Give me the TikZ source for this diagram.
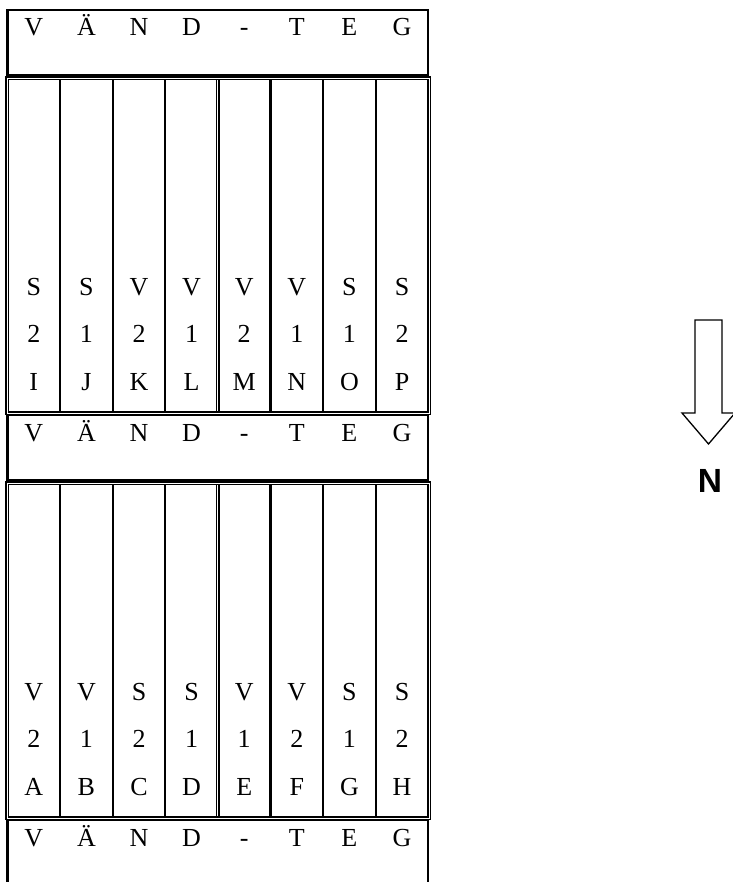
\documentclass[tikz,border=0pt]{standalone}
\usepackage{fontspec}
\setmainfont{Liberation Serif}
\newfontfamily\arialfont{Liberation Sans}
\begin{document}
\begin{tikzpicture}[x=1pt,y=-1pt,
  boxline/.style={line width=2.2pt},
  dblline/.style={line width=1.3pt},
  cellline/.style={line width=2.2pt},
  lettr/.style={font=\fontsize{26}{26}\selectfont, anchor=base, inner sep=0pt},
  arrowshape/.style={line width=1.3pt}]
\useasboundingbox (0,0) rectangle (732,882);
% boxes with VÄND-TEG
\foreach \b in {0,1,2}{
  \pgfmathsetmacro{\yo}{10+405*\b}
  \ifnum\b<2
    \draw[boxline] (7.5,\yo) rectangle (428,\yo+65);
  \else
    \draw[boxline] (7.5,885) -- (7.5,\yo) -- (428,\yo) -- (428,885);
  \fi
  \foreach \c [count=\k from 0] in {V,Ä,N,D,-,T,E,G}{
    \node[lettr] (box\b-\k) at ({7.5+52.6*(\k+0.5)},\yo+26) {\c};
  }
}
% grids
\foreach \b in {0,1}{
  \pgfmathsetmacro{\gt}{77+405*\b}
  \draw[dblline] (6,\gt) rectangle (430.3,\gt+337.3);
  \draw[dblline] (8.2,\gt+2.2) rectangle (428,\gt+335.1);
  \draw[dblline] (216.7,\gt+2.2) -- (216.7,\gt+335.1);
  \draw[dblline] (219.1,\gt+2.2) -- (219.1,\gt+335.1);
  \foreach \k in {1,2,3,5,6,7}{
    \draw[cellline] ({7.5+52.6*\k},\gt+2.2) -- ({7.5+52.6*\k},\gt+335.1);
  }
}
% letters in the grids
\foreach \b/\gt in {0/77,1/482}{
  \ifnum\b=0
    \def\L{{"S","S","V","V","V","V","S","S"}}
    \def\M{{"2","1","2","1","2","1","1","2"}}
    \def\N{{"I","J","K","L","M","N","O","P"}}
  \else
    \def\L{{"V","V","S","S","V","V","S","S"}}
    \def\M{{"2","1","2","1","1","2","1","2"}}
    \def\N{{"A","B","C","D","E","F","G","H"}}
  \fi
  \foreach \k in {0,...,7}{
    \pgfmathsetmacro{\la}{\L[\k]}
    \pgfmathsetmacro{\ma}{\M[\k]}
    \pgfmathsetmacro{\na}{\N[\k]}
    \node[lettr] (g\b-\k-a) at ({7.5+52.6*(\k+0.5)},\gt+218) {\la};
    \node[lettr] (g\b-\k-b) at ({7.5+52.6*(\k+0.5)},\gt+265) {\ma};
    \node[lettr] (g\b-\k-c) at ({7.5+52.6*(\k+0.5)},\gt+313) {\na};
  }
}
% north arrow
\draw[arrowshape] (695,320) -- (722,320) -- (722,413) -- (735,413) -- (708.5,444) -- (682,413) -- (695,413) -- cycle;
\node[font=\arialfont\bfseries\fontsize{33.5}{33.5}\selectfont, anchor=base, inner sep=0pt] (north) at (710,492) {N};
\end{tikzpicture}
\end{document}
